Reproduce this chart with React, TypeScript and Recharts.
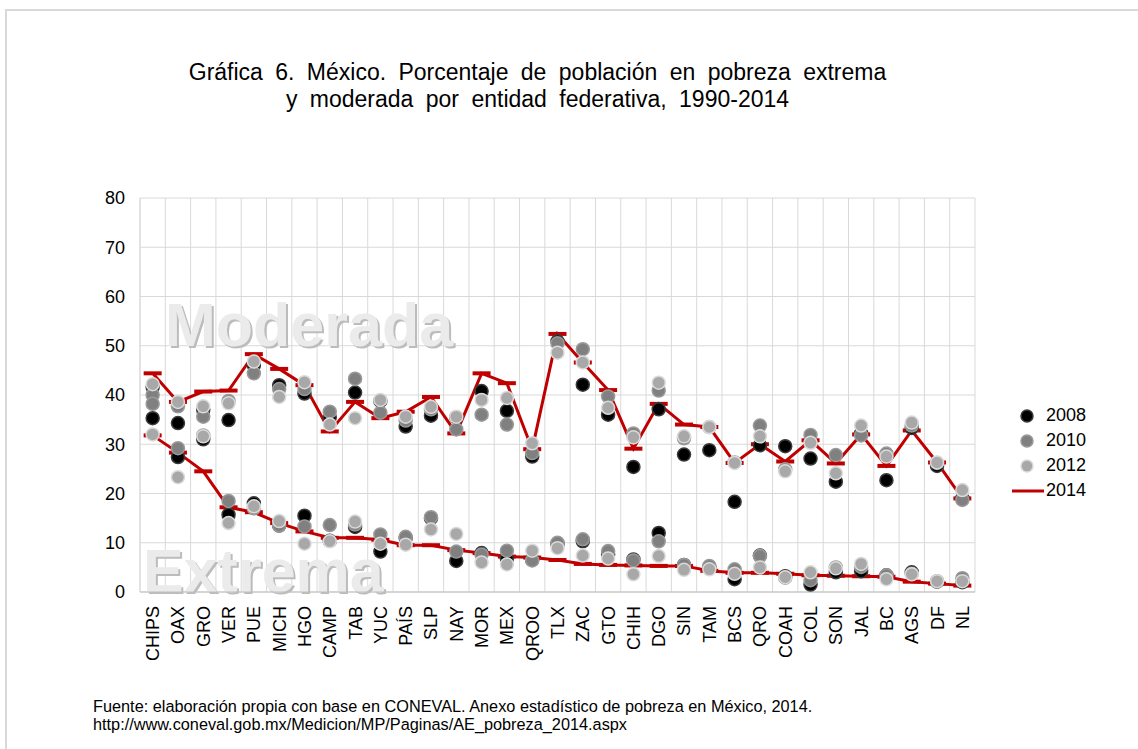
import React from 'react';
import { CartesianGrid, ComposedChart, Customized, Line, Scatter, XAxis, YAxis } from 'recharts';

const states = [
  'CHIPS', 'OAX', 'GRO', 'VER', 'PUE', 'MICH', 'HGO', 'CAMP', 'TAB', 'YUC', 'PAÍS',
  'SLP', 'NAY', 'MOR', 'MEX', 'QROO', 'TLX', 'ZAC', 'GTO', 'CHIH', 'DGO', 'SIN',
  'TAM', 'BCS', 'QRO', 'COAH', 'COL', 'SON', 'JAL', 'BC', 'AGS', 'DF', 'NL',
];

// pobreza moderada
const mod2008 = [41.6, 34.3, 37.0, 34.9, 46.0, 42.0, 40.3, 35.5, 40.5, 38.8, 33.6, 35.8, 35.5, 40.8, 36.8, 27.5, 50.9, 42.1, 36.0, 25.4, 37.1, 27.9, 28.8, 18.3, 29.8, 29.6, 27.1, 22.4, 32.2, 22.7, 33.3, 25.6, 19.0];
const mod2010 = [40.0, 37.7, 35.6, 38.8, 44.4, 41.2, 41.2, 36.6, 43.3, 36.4, 34.8, 37.1, 33.0, 36.0, 34.0, 28.2, 50.5, 49.3, 39.7, 32.2, 40.9, 31.2, 33.5, 26.3, 33.8, 24.9, 31.9, 27.8, 31.8, 28.1, 33.8, 26.2, 18.7];
const mod2012 = [42.2, 38.6, 37.7, 38.3, 46.8, 39.6, 42.6, 34.0, 35.3, 39.0, 35.6, 37.6, 35.6, 39.0, 39.4, 30.2, 48.6, 46.6, 37.4, 31.4, 42.5, 31.6, 33.5, 26.2, 31.6, 24.5, 30.3, 24.1, 33.8, 27.5, 34.4, 26.3, 20.7];
const mod2014 = [44.4, 38.6, 40.7, 40.9, 48.3, 45.3, 42.0, 32.6, 38.6, 35.3, 36.6, 39.6, 32.2, 44.4, 42.4, 29.0, 52.4, 46.6, 41.0, 29.1, 38.2, 34.0, 33.5, 26.2, 30.0, 26.5, 30.8, 26.1, 32.0, 25.6, 32.8, 26.3, 19.0];

// pobreza extrema
const ext2008 = [35.3, 27.4, 31.0, 15.7, 18.0, 13.5, 15.5, 10.4, 13.2, 8.2, 11.0, 15.0, 6.3, 7.9, 6.8, 6.5, 9.8, 10.3, 7.6, 6.6, 12.0, 5.5, 5.1, 2.6, 7.4, 3.2, 1.5, 4.0, 4.2, 3.4, 4.0, 2.1, 2.0];
const ext2010 = [38.2, 29.2, 31.8, 18.5, 17.0, 13.5, 13.3, 13.6, 13.7, 11.7, 11.2, 15.2, 8.2, 7.6, 8.4, 6.4, 10.0, 10.7, 8.3, 6.4, 10.3, 5.5, 5.3, 4.6, 7.3, 2.9, 2.4, 5.0, 5.1, 3.4, 3.7, 2.2, 2.8];
const ext2012 = [32.0, 23.3, 31.6, 14.0, 17.4, 14.4, 9.8, 10.3, 14.3, 9.8, 9.6, 12.7, 11.8, 6.0, 5.6, 8.4, 8.9, 7.4, 6.8, 3.6, 7.3, 4.5, 4.6, 3.7, 5.0, 3.0, 4.0, 4.8, 5.7, 2.6, 3.6, 2.2, 2.2];
const ext2014 = [31.8, 28.3, 24.5, 17.2, 16.2, 14.0, 12.3, 11.0, 11.0, 10.6, 9.5, 9.5, 8.5, 7.9, 7.2, 7.0, 6.5, 5.7, 5.5, 5.4, 5.3, 5.3, 4.3, 3.9, 3.9, 3.7, 3.4, 3.3, 3.2, 3.1, 2.1, 1.7, 1.3];

const yTicks = [0, 10, 20, 30, 40, 50, 60, 70, 80];
const legendYears = ['2008', '2010', '2012', '2014'];

const data = states.map((name, i) => ({
  name,
  mod2008: mod2008[i], mod2010: mod2010[i], mod2012: mod2012[i], mod2014: mod2014[i],
  ext2008: ext2008[i], ext2010: ext2010[i], ext2012: ext2012[i], ext2014: ext2014[i],
}));

const FONT = '"Liberation Sans", Arial, sans-serif';
const RED = '#c00000';

const dotStyles: Record<string, { fill: string; stroke: string }> = {
  '2008': { fill: '#000000', stroke: '#3a3a3a' },
  '2010': { fill: '#808080', stroke: '#9a9a9a' },
  '2012': { fill: '#a8a8a8', stroke: '#dadada' },
};

const makeDot = (year: string) => (props: any) => {
  const { cx, cy } = props;
  if (cx == null || cy == null) return <g />;
  const s = dotStyles[year];
  return <circle cx={cx} cy={cy} r={6.5} fill={s.fill} stroke={s.stroke} strokeWidth={1.5} />;
};

const DashDot = (props: any) => {
  const { cx, cy, index } = props;
  if (cx == null || cy == null) return <g key={index} />;
  return <rect key={index} x={cx - 9} y={cy - 2} width={18} height={4} fill={RED} />;
};

const StateTick = ({ x, y, payload }: any) => (
  <g transform={`translate(${x},${y})`}>
    <text transform="rotate(-90)" x={-6} y={0} dy="0.36em" textAnchor="end" fontSize={18} fontFamily={FONT} fill="#000">
      {payload.value}
    </text>
  </g>
);

const Watermarks = () => (
  <g fontFamily={FONT} fontWeight="bold" fontSize={61}>
    <text x={167} y={348} fill="#bcbcbc">Moderada</text>
    <text x={165} y={346} fill="#ebebeb">Moderada</text>
    <text x={145} y={594} fill="#bcbcbc">Extrema</text>
    <text x={143} y={592} fill="#ebebeb">Extrema</text>
  </g>
);

const boundaryLines = (props: any) => {
  const off = props.offset || {};
  const left = off.left ?? 140;
  const width = off.width ?? 835;
  return states.map((_, i) => left + (i * width) / states.length).concat(left + width);
};

const HALF_BAND = 835 / 33 / 2;

export default function App() {
  return (
    <div style={{ position: 'absolute', left: 0, top: 0, width: 1138, height: 749, background: '#fff', fontFamily: FONT }}>
      <div style={{ position: 'absolute', left: 5, top: 9, width: 1140, height: 745, borderLeft: '2px solid #d9d9d9', borderTop: '2px solid #d9d9d9' }} />
      <div style={{ position: 'absolute', left: 0, width: 1075, top: 59, textAlign: 'center', fontSize: 23, lineHeight: '27px', color: '#000', wordSpacing: 6 }}>
        Gráfica 6. México. Porcentaje de población en pobreza extrema
        <br />
        y moderada por entidad federativa, 1990-2014
      </div>

      <div style={{ position: 'absolute', left: 0, top: 0 }}>
        <ComposedChart width={1138} height={749} data={data} margin={{ top: 198, right: 163, bottom: 87, left: 100 }}>
          <Customized component={Watermarks} />
          <CartesianGrid stroke="#d9d9d9" strokeWidth={1} verticalCoordinatesGenerator={boundaryLines} />
          <XAxis
            dataKey="name"
            interval={0}
            padding={{ left: HALF_BAND, right: HALF_BAND }}
            tick={<StateTick />}
            tickLine={false}
            axisLine={{ stroke: '#bfbfbf' }}
            height={70}
          />
          <YAxis domain={[0, 80]} ticks={yTicks} width={40} tickLine={false} tickSize={0} tickMargin={15} axisLine={{ stroke: '#d9d9d9' }} tick={{ fontSize: 18, fill: '#000', fontFamily: FONT }} />
          <Line dataKey="mod2014" stroke={RED} strokeWidth={3} dot={<DashDot />} activeDot={false} isAnimationActive={false} />
          <Line dataKey="ext2014" stroke={RED} strokeWidth={3} dot={<DashDot />} activeDot={false} isAnimationActive={false} />
          <Scatter dataKey="mod2008" shape={makeDot('2008')} isAnimationActive={false} />
          <Scatter dataKey="ext2008" shape={makeDot('2008')} isAnimationActive={false} />
          <Scatter dataKey="mod2010" shape={makeDot('2010')} isAnimationActive={false} />
          <Scatter dataKey="ext2010" shape={makeDot('2010')} isAnimationActive={false} />
          <Scatter dataKey="mod2012" shape={makeDot('2012')} isAnimationActive={false} />
          <Scatter dataKey="ext2012" shape={makeDot('2012')} isAnimationActive={false} />
        </ComposedChart>
      </div>

      <div style={{ position: 'absolute', left: 1008, top: 403 }}>
        {legendYears.map((y) => (
          <div key={y} style={{ display: 'flex', alignItems: 'center', height: 25 }}>
            <svg width={38} height={25} style={{ display: 'block' }}>
              {y === '2014' ? (
                <line x1={4} x2={36} y1={13} y2={13} stroke={RED} strokeWidth={3} />
              ) : (
                <circle cx={19} cy={13} r={6} fill={dotStyles[y].fill} stroke={dotStyles[y].stroke} strokeWidth={1.5} />
              )}
            </svg>
            <span style={{ fontSize: 18 }}>{y}</span>
          </div>
        ))}
      </div>

      <div style={{ position: 'absolute', left: 93, top: 697, fontSize: 16.3, lineHeight: '18px', color: '#000' }}>
        Fuente: elaboración propia con base en CONEVAL. Anexo estadístico de pobreza en México, 2014.
        <br />
        http://www.coneval.gob.mx/Medicion/MP/Paginas/AE_pobreza_2014.aspx
      </div>
    </div>
  );
}
